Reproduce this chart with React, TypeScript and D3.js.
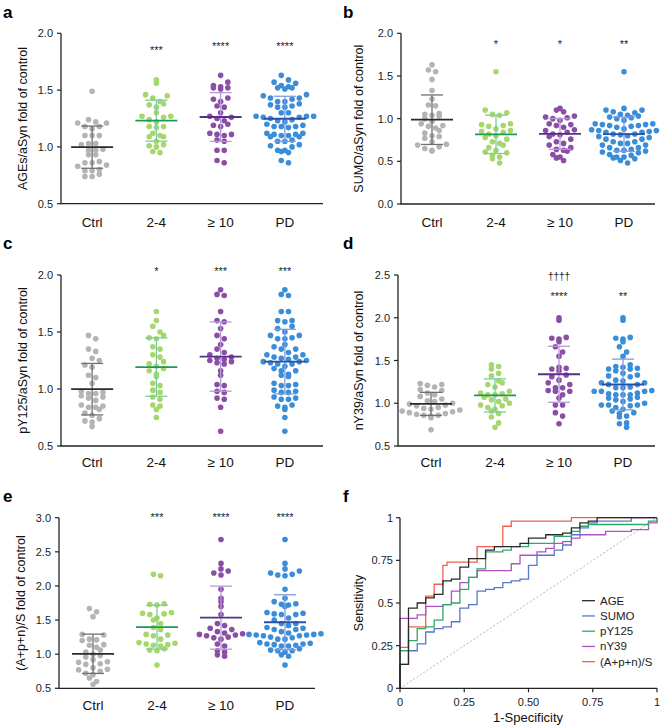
import React from "react";
import * as d3 from "d3";

const categories = ["Ctrl", "2-4", "≥ 10", "PD"];

// a: AGEs/aSyn
const agesCtrl = [1.49, 1.24, 1.22, 1.21, 1.21, 1.18, 1.18, 1.16, 1.10, 1.10, 1.10, 1.03, 1.03, 1.02, 0.98, 0.97, 0.97, 0.93, 0.93, 0.87, 0.86, 0.86, 0.84, 0.83, 0.80, 0.79, 0.79, 0.76, 0.74, 0.74];
const ages24 = [1.59, 1.56, 1.46, 1.45, 1.43, 1.40, 1.38, 1.37, 1.35, 1.30, 1.27, 1.27, 1.26, 1.24, 1.22, 1.18, 1.18, 1.17, 1.12, 1.10, 1.09, 1.09, 1.05, 1.02, 1.01, 1.00, 0.96, 0.95];
const ages10 = [1.63, 1.57, 1.54, 1.53, 1.52, 1.52, 1.51, 1.43, 1.42, 1.40, 1.36, 1.35, 1.30, 1.27, 1.26, 1.25, 1.23, 1.20, 1.19, 1.18, 1.12, 1.11, 1.11, 1.10, 1.06, 1.05, 0.97, 0.97, 0.88, 0.86];

// b: SUMO/aSyn
const sumoCtrl = [1.63, 1.57, 1.55, 1.46, 1.33, 1.23, 1.16, 1.15, 1.06, 1.05, 1.04, 1.03, 1.00, 0.97, 0.94, 0.92, 0.91, 0.89, 0.86, 0.83, 0.80, 0.79, 0.77, 0.73, 0.70, 0.69, 0.67, 0.65, 0.63, 0.62];
const sumo24 = [1.55, 1.10, 1.07, 1.05, 1.04, 0.94, 0.93, 0.92, 0.91, 0.88, 0.86, 0.85, 0.84, 0.82, 0.80, 0.78, 0.76, 0.73, 0.71, 0.69, 0.66, 0.63, 0.61, 0.60, 0.57, 0.55, 0.53, 0.48];
const sumo10 = [1.12, 1.10, 1.08, 1.02, 1.00, 1.03, 1.01, 0.98, 0.92, 0.94, 0.93, 0.90, 0.87, 0.86, 0.84, 0.82, 0.81, 0.79, 0.76, 0.73, 0.71, 0.69, 0.66, 0.64, 0.63, 0.62, 0.58, 0.55, 0.54, 0.51];

// c: pY125/aSyn
const pyCtrl = [1.47, 1.44, 1.35, 1.33, 1.27, 1.25, 1.21, 1.19, 1.12, 1.10, 1.05, 0.96, 0.96, 0.98, 0.97, 0.94, 0.93, 0.92, 0.90, 0.86, 0.85, 0.84, 0.84, 0.82, 0.79, 0.77, 0.74, 0.72, 0.71, 0.67];
const py24 = [1.68, 1.60, 1.55, 1.50, 1.47, 1.45, 1.44, 1.37, 1.35, 1.30, 1.28, 1.24, 1.22, 1.20, 1.18, 1.16, 1.13, 1.11, 1.05, 1.03, 0.99, 0.97, 0.93, 0.91, 0.86, 0.85, 0.82, 0.75];
const py10 = [1.87, 1.83, 1.82, 1.68, 1.60, 1.59, 1.53, 1.47, 1.44, 1.39, 1.35, 1.32, 1.30, 1.28, 1.27, 1.26, 1.25, 1.24, 1.23, 1.22, 1.16, 1.12, 1.04, 1.03, 0.98, 0.97, 0.92, 0.91, 0.84, 0.63];

// d: nY39/aSyn
const nyCtrl = [1.23, 1.22, 1.21, 1.19, 1.16, 1.15, 1.12, 1.10, 1.08, 1.05, 1.03, 1.02, 1.00, 0.99, 0.98, 0.97, 0.95, 0.94, 0.93, 0.92, 0.91, 0.90, 0.89, 0.88, 0.87, 0.86, 0.86, 0.85, 0.83, 0.69];
const ny24 = [1.45, 1.43, 1.40, 1.35, 1.32, 1.26, 1.24, 1.22, 1.19, 1.14, 1.12, 1.11, 1.10, 1.10, 1.07, 1.05, 1.04, 1.02, 1.00, 0.98, 0.97, 0.95, 0.93, 0.91, 0.88, 0.84, 0.77, 0.72];
const ny10 = [2.00, 1.97, 1.77, 1.76, 1.75, 1.72, 1.66, 1.60, 1.55, 1.42, 1.41, 1.40, 1.38, 1.33, 1.31, 1.27, 1.24, 1.22, 1.18, 1.18, 1.15, 1.14, 1.14, 1.10, 1.06, 0.98, 0.98, 0.89, 0.85, 0.76];

// e: (A+p+n)/S
const apnCtrl = [1.67, 1.62, 1.55, 1.29, 1.28, 1.22, 1.21, 1.20, 1.14, 1.13, 1.10, 1.06, 1.03, 1.00, 0.98, 0.96, 0.92, 0.89, 0.88, 0.86, 0.85, 0.80, 0.78, 0.77, 0.75, 0.72, 0.70, 0.65, 0.60, 0.56];
const apn24 = [2.17, 2.15, 1.74, 1.73, 1.72, 1.61, 1.60, 1.59, 1.58, 1.53, 1.50, 1.45, 1.39, 1.36, 1.29, 1.28, 1.27, 1.22, 1.17, 1.16, 1.15, 1.14, 1.13, 1.12, 1.08, 1.06, 1.05, 0.84];
const apn10 = [2.68, 2.33, 2.25, 2.22, 2.19, 2.16, 1.95, 1.82, 1.77, 1.70, 1.58, 1.45, 1.42, 1.38, 1.36, 1.33, 1.31, 1.30, 1.29, 1.28, 1.27, 1.25, 1.24, 1.22, 1.15, 1.12, 1.05, 1.03, 0.99, 0.97];

// f: ROC curves [1-specificity, sensitivity]
const rocAGE = [[0, 0], [0, 0.14], [0.033, 0.47], [0.067, 0.5], [0.1, 0.53], [0.133, 0.55], [0.167, 0.63], [0.2, 0.64], [0.233, 0.71], [0.267, 0.76], [0.333, 0.81], [0.367, 0.83], [0.467, 0.85], [0.5, 0.88], [0.567, 0.9], [0.633, 0.91], [0.667, 0.94], [0.7, 0.97], [0.733, 0.98], [0.767, 1], [1, 1]];
const rocSUMO = [[0, 0], [0, 0.14], [0.033, 0.16], [0.033, 0.22], [0.067, 0.26], [0.1, 0.33], [0.133, 0.35], [0.167, 0.36], [0.2, 0.39], [0.233, 0.47], [0.267, 0.49], [0.3, 0.57], [0.333, 0.58], [0.367, 0.59], [0.4, 0.62], [0.433, 0.63], [0.467, 0.64], [0.5, 0.72], [0.533, 0.78], [0.6, 0.81], [0.633, 0.84], [0.667, 0.9], [0.7, 0.94], [0.733, 0.97], [0.767, 0.98], [0.9, 1], [1, 1]];
const rocPY125 = [[0, 0], [0, 0.22], [0.033, 0.24], [0.033, 0.28], [0.067, 0.35], [0.1, 0.36], [0.133, 0.4], [0.167, 0.49], [0.2, 0.5], [0.233, 0.58], [0.267, 0.65], [0.3, 0.7], [0.333, 0.8], [0.4, 0.81], [0.433, 0.83], [0.5, 0.85], [0.6, 0.89], [0.667, 0.92], [0.7, 0.95], [0.733, 0.96], [0.967, 0.98], [1, 0.99], [1, 1]];
const rocNY39 = [[0, 0], [0, 0.41], [0.067, 0.43], [0.1, 0.48], [0.167, 0.49], [0.2, 0.57], [0.233, 0.62], [0.267, 0.65], [0.3, 0.69], [0.433, 0.73], [0.467, 0.78], [0.533, 0.8], [0.567, 0.82], [0.6, 0.85], [0.633, 0.86], [0.667, 0.88], [0.7, 0.9], [0.8, 0.92], [0.9, 0.93], [0.967, 0.95], [0.967, 0.97], [1, 1]];
const rocAPN = [[0, 0], [0, 0.24], [0.033, 0.36], [0.1, 0.54], [0.133, 0.61], [0.167, 0.72], [0.183, 0.74], [0.3, 0.83], [0.4, 0.95], [0.433, 0.98], [0.667, 1], [1, 1]];

const rocNames = ["AGE", "SUMO", "pY125", "nY39", "(A+p+n)/S"];
const rocSeries = [rocAGE, rocSUMO, rocPY125, rocNY39, rocAPN];
const rocColors = ["#2a2a2a", "#5577cc", "#2fa86a", "#b152c4", "#f2604e"];
const rocDrawOrder = [4, 3, 1, 2, 0];

const dotColors = ["#b4b4b4", "#a6d76c", "#8b4ea6", "#3a8dd8"];
const meanColors = ["#2a2a2a", "#1d9a50", "#56308c", "#2c4ea3"];
const sdColors = ["#6f6f6f", "#76cf9d", "#b59bd5", "#7f9ce0"];

const FONT = "'Liberation Sans', Arial, Helvetica, sans-serif";

const panels = [
  { letter: "a", lx: 3, ly: 18, axisX: 61, xEnd: 323, xRange: [60, 317], yTop: 33.3, yBottom: 203.7, domain: [0.5, 2.0], ticks: [0.5, 1.0, 1.5, 2.0], catY: 227, titleX: 27, title: "AGEs/aSyn fold of control", data: [agesCtrl, ages24, ages10], stars: ["", "***", "****", "****"], starY: [0, 54, 50, 50], daggers: ["", "", "", ""], daggerY: 0 },
  { letter: "b", lx: 343, ly: 18, axisX: 401, xEnd: 655, xRange: [400, 656], yTop: 33.3, yBottom: 204, domain: [0, 2.0], ticks: [0, 0.5, 1.0, 1.5, 2.0], catY: 227, titleX: 363, title: "SUMO/aSyn fold of control", data: [sumoCtrl, sumo24, sumo10], stars: ["", "*", "*", "**"], starY: [0, 47.5, 47.5, 47.5], daggers: ["", "", "", ""], daggerY: 0 },
  { letter: "c", lx: 3, ly: 249, axisX: 61, xEnd: 323, xRange: [60, 317], yTop: 275, yBottom: 446, domain: [0.5, 2.0], ticks: [0.5, 1.0, 1.5, 2.0], catY: 467, titleX: 27, title: "pY125/aSyn fold of control", data: [pyCtrl, py24, py10], stars: ["", "*", "***", "***"], starY: [0, 275, 275, 275], daggers: ["", "", "", ""], daggerY: 0 },
  { letter: "d", lx: 343, ly: 249, axisX: 398, xEnd: 655, xRange: [399, 655], yTop: 275, yBottom: 446, domain: [0.5, 2.5], ticks: [0.5, 1.0, 1.5, 2.0, 2.5], catY: 467, titleX: 363, title: "nY39/aSyn fold of control", data: [nyCtrl, ny24, ny10], stars: ["", "", "****", "**"], starY: [0, 0, 300, 300], daggers: ["", "", "††††", ""], daggerY: 279.5 },
  { letter: "e", lx: 3, ly: 502, axisX: 59, xEnd: 315, xRange: [61, 317], yTop: 517.7, yBottom: 688.3, domain: [0.5, 3.0], ticks: [0.5, 1.0, 1.5, 2.0, 2.5, 3.0], catY: 710, titleX: 25, title: "(A+p+n)/S fold of control", data: [apnCtrl, apn24, apn10], stars: ["", "***", "****", "****"], starY: [0, 521, 521, 521], daggers: ["", "", "", ""], daggerY: 0 },
];

const R = 2.8;

// Prism-like scatter layout: bin by pixel row, spread each row symmetrically
function swarm(vals: number[], y: (v: number) => number, binH: number, step: number) {
  const pts = vals.map((v) => ({ v, cy: y(v), dx: 0 }));
  const bins = d3.group(pts, (p) => Math.round(p.cy / binH));
  bins.forEach((arr) => {
    arr.sort((a, b) => a.v - b.v);
    const n = arr.length;
    const order: typeof arr = [];
    arr.forEach((p, i) => (i % 2 === 0 ? order.push(p) : order.unshift(p)));
    order.forEach((p, i) => (p.dx = (i - (n - 1) / 2) * step));
  });
  return pts;
}

function DotPanel({ p }: { p: any }) {
  const y = d3.scaleLinear().domain(p.domain).range([p.yBottom, p.yTop]);
  const x = d3.scaleBand().domain(categories).range(p.xRange);
  const groups = [p.data[0], p.data[1], p.data[2], [...p.data[1], ...p.data[2]]];
  const fmt = d3.format(".1f");
  const titleY = (p.yTop + p.yBottom) / 2;
  return (
    <g>
      <text x={p.lx} y={p.ly} fontSize={17} fontWeight="bold" fontFamily={FONT}>{p.letter}</text>
      <line x1={p.axisX} x2={p.axisX} y1={p.yTop} y2={p.yBottom} stroke="#222" strokeWidth={1.3} />
      <line x1={p.axisX - 0.6} x2={p.xEnd} y1={p.yBottom} y2={p.yBottom} stroke="#222" strokeWidth={1.3} />
      {p.ticks.map((t: number) => (
        <g key={t}>
          <line x1={p.axisX - 4} x2={p.axisX} y1={y(t)} y2={y(t)} stroke="#222" strokeWidth={1.2} />
          <text x={p.axisX - 8} y={y(t) + 4} fontSize={11} textAnchor="end" fontFamily={FONT} fill="#222">{fmt(t)}</text>
        </g>
      ))}
      <text transform={`translate(${p.titleX},${titleY}) rotate(-90)`} fontSize={12.5} textAnchor="middle" fontFamily={FONT} fill="#111">{p.title}</text>
      {categories.map((c) => (
        <text key={c} x={(x(c) as number) + x.bandwidth() / 2} y={p.catY} fontSize={13.5} textAnchor="middle" fontFamily={FONT} fill="#111">{c}</text>
      ))}
      {groups.map((vals: number[], gi: number) => {
        const cx = (x(categories[gi]) as number) + x.bandwidth() / 2;
        const pts = swarm(vals, y, 7, 7.2);
        const m = d3.mean(vals) as number;
        const sd = d3.deviation(vals) as number;
        return (
          <g key={gi}>
            {pts.map((pt, i) => (
              <circle key={i} cx={cx + pt.dx} cy={pt.cy} r={R} fill={dotColors[gi]} />
            ))}
            <line x1={cx} x2={cx} y1={y(m - sd)} y2={y(m + sd)} stroke={sdColors[gi]} strokeWidth={1.3} />
            <line x1={cx - 11} x2={cx + 11} y1={y(m + sd)} y2={y(m + sd)} stroke={sdColors[gi]} strokeWidth={1.3} />
            <line x1={cx - 11} x2={cx + 11} y1={y(m - sd)} y2={y(m - sd)} stroke={sdColors[gi]} strokeWidth={1.3} />
            <line x1={cx - 21} x2={cx + 21} y1={y(m)} y2={y(m)} stroke={meanColors[gi]} strokeWidth={1.8} />
            {p.stars[gi] && (
              <text x={cx} y={p.starY[gi]} fontSize={11} textAnchor="middle" fontFamily={FONT} fill="#222">{p.stars[gi]}</text>
            )}
            {p.daggers[gi] && (
              <text x={cx} y={p.daggerY} fontSize={10} textAnchor="middle" fontFamily={FONT} fill="#222">{p.daggers[gi]}</text>
            )}
          </g>
        );
      })}
    </g>
  );
}

function RocPanel() {
  const x = d3.scaleLinear().domain([0, 1]).range([400, 657]);
  const y = d3.scaleLinear().domain([0, 1]).range([688.3, 517.7]);
  const line = d3.line<number[]>().x((d) => x(d[0])).y((d) => y(d[1])).curve(d3.curveStepAfter);
  const xt = [0, 0.25, 0.5, 0.75, 1];
  const xtl = ["0", "0.25", "0.50", "0.75", "1"];
  const ytl = ["0", "0.25", "0.5", "0.75", "1"];
  return (
    <g>
      <text x={343} y={502} fontSize={17} fontWeight="bold" fontFamily={FONT}>f</text>
      <line x1={x(0)} y1={y(0)} x2={x(1)} y2={y(1)} stroke="#aaa" strokeWidth={0.9} strokeDasharray="2,2" />
      {rocDrawOrder.map((i) => (
        <path key={i} d={line(rocSeries[i] as number[][]) as string} fill="none" stroke={rocColors[i]} strokeWidth={1.3} />
      ))}
      <line x1={x(0)} x2={x(0)} y1={y(1)} y2={y(0)} stroke="#222" strokeWidth={1.3} />
      <line x1={x(0) - 0.6} x2={x(1)} y1={y(0)} y2={y(0)} stroke="#222" strokeWidth={1.3} />
      {xt.map((t, i) => (
        <g key={t}>
          <line x1={x(t)} x2={x(t)} y1={y(0)} y2={y(0) + 4} stroke="#222" strokeWidth={1.2} />
          <text x={x(t)} y={706} fontSize={11} textAnchor="middle" fontFamily={FONT} fill="#222">{xtl[i]}</text>
          <line x1={x(0) - 4} x2={x(0)} y1={y(t)} y2={y(t)} stroke="#222" strokeWidth={1.2} />
          <text x={x(0) - 7} y={y(t) + 4} fontSize={11} textAnchor="end" fontFamily={FONT} fill="#222">{ytl[i]}</text>
        </g>
      ))}
      <text transform={`translate(363,603) rotate(-90)`} fontSize={12.5} textAnchor="middle" fontFamily={FONT} fill="#111">Sensitivity</text>
      <text x={528} y={722} fontSize={13} textAnchor="middle" fontFamily={FONT} fill="#111">1-Specificity</text>
      {rocNames.map((n, i) => (
        <g key={n} transform={`translate(582,${600.7 + i * 15.25})`}>
          <line x1={0} x2={13} y1={0} y2={0} stroke={rocColors[i]} strokeWidth={1.3} />
          <text x={18} y={4} fontSize={11.5} fontFamily={FONT} fill="#222">{n}</text>
        </g>
      ))}
    </g>
  );
}

export default function App() {
  return (
    <svg width={660} height={727} style={{ position: "absolute", left: 0, top: 0, background: "#fff" }}>
      <rect width={660} height={727} fill="#fff" />
      {panels.map((p) => (
        <DotPanel key={p.letter} p={p} />
      ))}
      <RocPanel />
    </svg>
  );
}
